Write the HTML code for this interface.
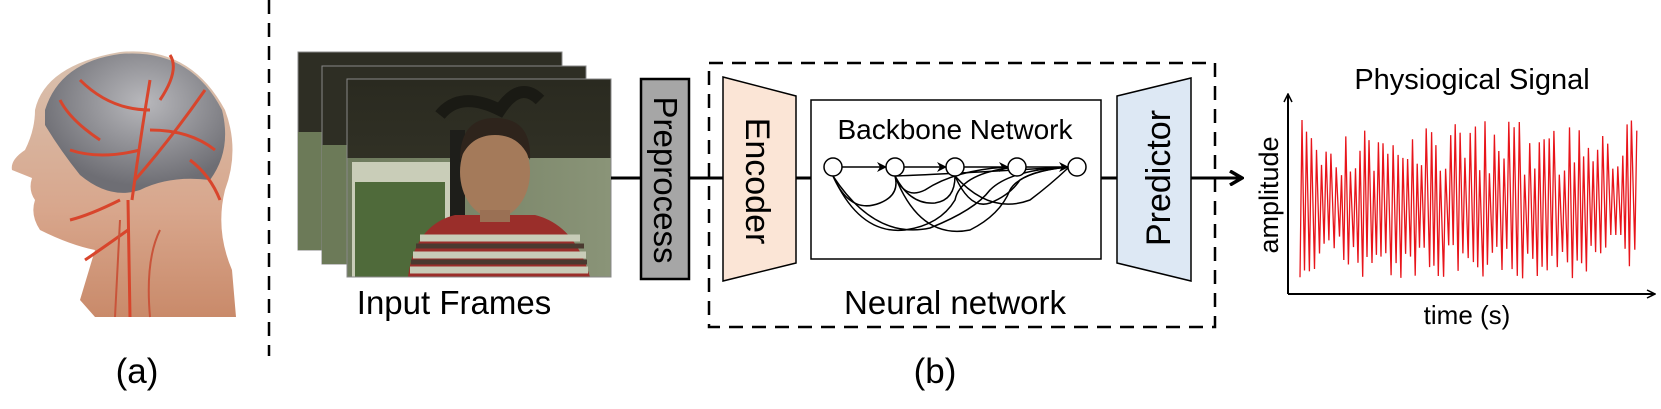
<!DOCTYPE html>
<html><head><meta charset="utf-8"><style>
html,body{margin:0;padding:0;background:#fff;}
svg{display:block;font-family:"Liberation Sans",Arial,sans-serif;}
</style></head><body>
<svg id="s" width="1661" height="409" viewBox="0 0 1661 409" xmlns="http://www.w3.org/2000/svg">
<defs>
<linearGradient id="skin" x1="0" y1="0" x2="0" y2="1"><stop offset="0" stop-color="#d9c2b0"/><stop offset="0.6" stop-color="#d8a68c"/><stop offset="1" stop-color="#c98a6a"/></linearGradient>
<radialGradient id="skull" cx="0.55" cy="0.35" r="0.6"><stop offset="0" stop-color="#b8b8bc"/><stop offset="1" stop-color="#6e6e74"/></radialGradient>
<linearGradient id="wall" x1="0" y1="0" x2="0" y2="1"><stop offset="0" stop-color="#2a2a20"/><stop offset="1" stop-color="#3a3a2c"/></linearGradient>
<linearGradient id="lower" x1="0" y1="0" x2="1" y2="0"><stop offset="0" stop-color="#6d7a5c"/><stop offset="1" stop-color="#8a9478"/></linearGradient>
<marker id="ah" markerWidth="10" markerHeight="10" refX="9" refY="5" orient="auto" markerUnits="userSpaceOnUse"><path d="M0,0 L10,5 L0,10 L3,5 z" fill="#000"/></marker>
<marker id="ab" markerWidth="16" markerHeight="16" refX="14" refY="8" orient="auto" markerUnits="userSpaceOnUse"><path d="M2,1 L14,8 L2,15" fill="none" stroke="#000" stroke-width="3.5"/></marker>
<marker id="as" markerWidth="10" markerHeight="10" refX="9" refY="5" orient="auto" markerUnits="userSpaceOnUse"><path d="M1,1 L9,5 L1,9" fill="none" stroke="#000" stroke-width="1.5"/></marker>
</defs>

<!-- Head illustration -->
<path d="M80,300 L95,250 Q70,245 40,230 Q30,215 35,200 Q28,190 32,178 L12,170 Q10,160 25,150 Q35,130 35,110 Q45,65 120,52 Q190,45 225,110 Q240,150 225,190 Q215,230 232,270 L236,317 L95,317 Z" fill="url(#skin)"/>
<path d="M45,110 Q60,62 120,54 Q190,48 222,110 Q232,150 210,180 Q170,175 140,190 Q110,200 80,175 Q60,150 45,125 Z" fill="url(#skull)"/>
<path d="M130,317 L128,200 M132,200 Q140,140 150,80 M135,180 Q170,140 205,90 M150,110 Q110,110 80,80 M140,150 Q100,160 70,150 M150,130 Q190,130 215,150 M120,200 Q90,215 70,220 M128,230 Q100,250 85,260 M160,100 Q180,70 170,55 M100,140 Q70,120 60,100 M190,160 Q210,175 220,200" stroke="#d8452c" stroke-width="3" fill="none"/>
<path d="M115,317 L120,220 M150,317 Q145,260 160,230" stroke="#c9543a" stroke-width="2" fill="none"/>

<!-- dashed divider -->
<line x1="269" y1="0" x2="269" y2="356" stroke="#000" stroke-width="2.5" stroke-dasharray="14,9"/>

<!-- frames -->
<rect x="298" y="52" width="264" height="198" fill="#2e2e24" stroke="#888" stroke-width="1"/>
<rect x="298" y="132" width="60" height="118" fill="#6c7a58"/>
<rect x="322" y="66" width="264" height="198" fill="#2e2e24" stroke="#888" stroke-width="1"/>
<rect x="322" y="145" width="60" height="119" fill="#6c7a58"/>
<g>
<rect x="347" y="79" width="264" height="198" fill="url(#wall)"/>
<rect x="347" y="158" width="264" height="119" fill="url(#lower)"/>
<rect x="352" y="162" width="100" height="115" fill="#c9cdb8"/>
<rect x="355" y="182" width="90" height="95" fill="#4f6a3a"/>
<rect x="450" y="130" width="15" height="100" fill="#1e1e1a"/>
<path d="M440,115 Q460,90 500,110 Q520,80 540,100" stroke="#1a1a14" stroke-width="12" fill="none"/>
<path d="M408,277 Q415,225 455,215 L535,215 Q575,225 590,277 Z" fill="#9a2e2a"/>
<path d="M420,238 L580,238 M413,255 L586,255 M410,270 L588,270" stroke="#c8ccb8" stroke-width="7"/>
<path d="M416,246 L584,246 M411,262 L587,262" stroke="#4a3a30" stroke-width="5"/>
<ellipse cx="495" cy="172" rx="35" ry="46" fill="#a47a5a"/>
<path d="M460,160 Q460,118 495,118 Q532,118 530,160 Q520,135 495,135 Q470,135 460,160 Z" fill="#2e241c"/>
<rect x="480" y="210" width="30" height="12" fill="#9a7054"/>
<rect x="347" y="79" width="264" height="198" fill="none" stroke="#888" stroke-width="1"/>
</g>
<text x="454" y="314" font-size="33" text-anchor="middle">Input Frames</text>

<!-- connectors -->
<line x1="611" y1="178" x2="641" y2="178" stroke="#000" stroke-width="3"/>
<line x1="689" y1="178" x2="723" y2="178" stroke="#000" stroke-width="3"/>
<line x1="796" y1="178" x2="811" y2="178" stroke="#000" stroke-width="3"/>
<line x1="1101" y1="178" x2="1117" y2="178" stroke="#000" stroke-width="3"/>
<line x1="1191" y1="178" x2="1242" y2="178" stroke="#000" stroke-width="3" marker-end="url(#ab)"/>

<!-- preprocess -->
<rect x="641" y="79" width="48" height="200" fill="#a6a6a6" stroke="#000" stroke-width="2.5"/>
<text transform="translate(654,180) rotate(90)" font-size="33" text-anchor="middle">Preprocess</text>

<!-- neural network dashed box -->
<rect x="709" y="63" width="506" height="264" fill="none" stroke="#000" stroke-width="2.5" stroke-dasharray="14,9"/>

<!-- encoder -->
<polygon points="723,77 796,96 796,263 723,281" fill="#fbe5d6" stroke="#000" stroke-width="1.5"/>
<text transform="translate(746,181) rotate(90)" font-size="34" text-anchor="middle">Encoder</text>

<!-- backbone -->
<rect x="811" y="100" width="290" height="159" fill="#fff" stroke="#000" stroke-width="1.5"/>
<text x="955" y="139" font-size="28" text-anchor="middle">Backbone Network</text>
<g fill="none" stroke="#000" stroke-width="1.5">
<line x1="842" y1="167" x2="886" y2="167" marker-end="url(#ah)"/>
<line x1="904" y1="167" x2="946" y2="167" marker-end="url(#ah)"/>
<line x1="964" y1="167" x2="1008" y2="167" marker-end="url(#ah)"/>
<line x1="1026" y1="167" x2="1068" y2="167" marker-end="url(#ah)"/>
<path d="M833,176 Q850,215 880,203 Q900,195 895,176"/>
<path d="M833,176 Q860,235 905,230 Q940,225 955,200 Q960,175 1008,168"/>
<path d="M833,176 Q875,240 930,228 Q975,210 990,190 Q1010,170 1068,167"/>
<path d="M895,176 Q910,205 935,203 Q955,200 955,176"/>
<path d="M895,176 Q920,240 970,230 Q1000,215 1010,190 Q1020,172 1068,167"/>
<path d="M895,176 Q905,200 925,190 Q955,170 1008,167"/>
<path d="M955,176 Q970,210 990,203 Q1010,195 1020,180 Q1035,170 1068,167"/>
<path d="M955,176 Q990,215 1030,200 Q1050,185 1068,168"/>
<path d="M895,176 Q930,175 1068,167"/>
</g>
<g fill="#fff" stroke="#000" stroke-width="1.5">
<circle cx="833" cy="167" r="9"/><circle cx="895" cy="167" r="9"/><circle cx="955" cy="167" r="9"/><circle cx="1017" cy="167" r="9"/><circle cx="1077" cy="167" r="9"/>
</g>
<text x="955" y="314" font-size="33" text-anchor="middle">Neural network</text>

<!-- predictor -->
<polygon points="1117,96 1191,78 1191,281 1117,263" fill="#dde8f4" stroke="#000" stroke-width="1.5"/>
<text transform="translate(1170,178) rotate(-90)" font-size="34" text-anchor="middle">Predictor</text>

<!-- plot -->
<text x="1472" y="89" font-size="29" text-anchor="middle">Physiogical Signal</text>
<line x1="1288" y1="294" x2="1288" y2="94" stroke="#000" stroke-width="2" marker-end="url(#as)"/>
<line x1="1288" y1="294" x2="1655" y2="294" stroke="#000" stroke-width="2" marker-end="url(#as)"/>
<text transform="translate(1278,195) rotate(-90)" font-size="27" text-anchor="middle">amplitude</text>
<text x="1467" y="324" font-size="26" text-anchor="middle">time (s)</text>
<polyline id="sig" fill="none" stroke="#e8141a" stroke-width="1.3" points=""/>

<!-- labels -->
<text x="137" y="383" font-size="35" text-anchor="middle">(a)</text>
<text x="935" y="383" font-size="35" text-anchor="middle">(b)</text>
</svg>
<script>
(function(){
var pts=[],seed=7;function r(){seed=(seed*16807)%2147483647;return seed/2147483647;}
var x=1300;
while(x<1638){
 var top=120+r()*55, bot=245+r()*35;
 if(x>1322&&x<1340){top=150+r()*30;bot=230+r()*20;}
 if(x>1610&&x<1625){top=155+r()*15;bot=235;}
 pts.push(x.toFixed(1)+","+bot.toFixed(1));
 pts.push((x+2).toFixed(1)+","+top.toFixed(1));
 x+=4.2+r()*1.2;
}
document.getElementById('sig').setAttribute('points',pts.join(' '));
})();
</script>
</body></html>
